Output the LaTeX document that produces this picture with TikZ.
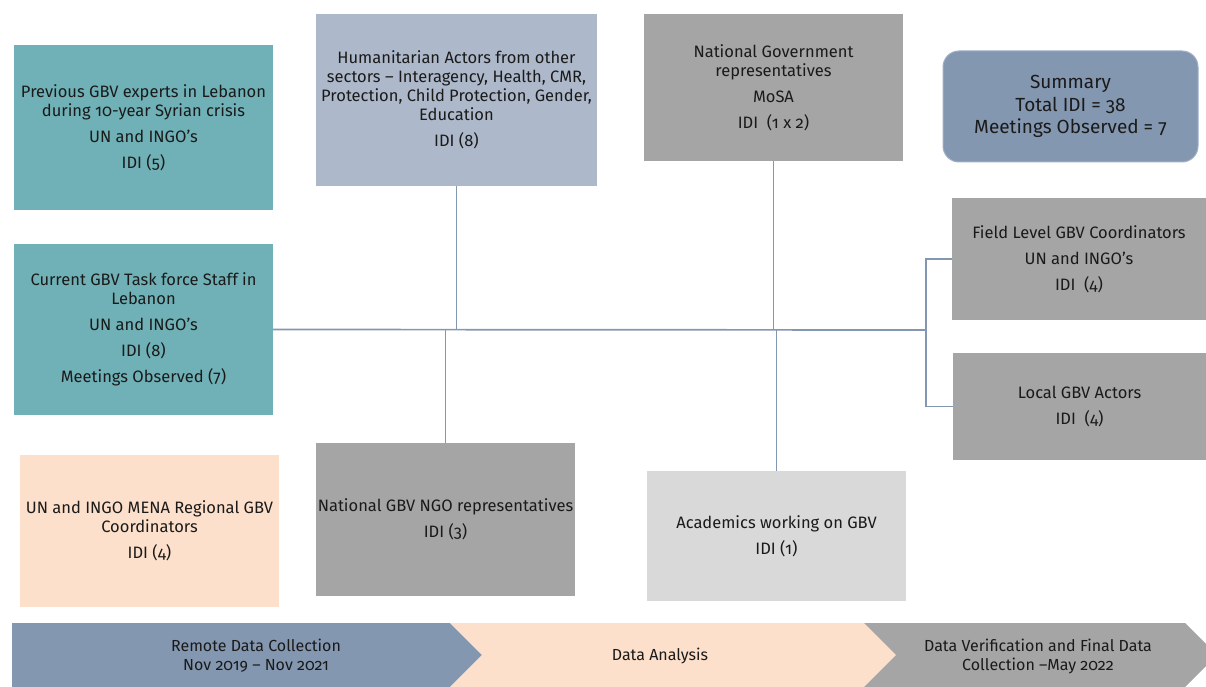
\documentclass[tikz,border=0pt]{standalone}
\usepackage{fontspec}
\setmainfont{Fira Sans}[Numbers=OldStyle]
\definecolor{tealbox}{HTML}{6FB1B6}
\definecolor{bluegrey}{HTML}{ADB9CA}
\definecolor{midgrey}{HTML}{A5A5A5}
\definecolor{lightgrey}{HTML}{D9D9D9}
\definecolor{peach}{HTML}{FDE0CB}
\definecolor{slate}{HTML}{8497B0}
\definecolor{slateedge}{HTML}{9FB0C6}
\definecolor{inktext}{HTML}{1A1A1A}
\tikzset{
  box/.style={rectangle, inner sep=0pt, align=center, text=inktext,
    font=\fontsize{16.5}{19}\selectfont},
  link/.style={draw=slate, line width=1.3pt},
  phase/.style={inner sep=0pt, align=center, text=inktext,
    font=\fontsize{16}{19}\selectfont}
}
\begin{document}
\begin{tikzpicture}[x=1pt,y=-1pt]
\useasboundingbox (0,0) rectangle (1206,687);
\clip (0,0) rectangle (1206,687);

% participant groups
\node[box, fill=tealbox, minimum width=259pt, minimum height=165pt] (prev) at (143.5,127.5)
  {Previous GBV experts in Lebanon\\ during 10-year Syrian crisis\\[7pt] UN and INGO’s\\[7pt] IDI (5)};
\node[box, fill=bluegrey, minimum width=281pt, minimum height=172pt] (hum) at (456.5,100)
  {Humanitarian Actors from other\\ sectors – Interagency, Health, CMR,\\ Protection, Child Protection, Gender,\\ Education\\[7pt] IDI (8)};
\node[box, fill=midgrey, minimum width=259pt, minimum height=147pt] (gov) at (773.5,87.5)
  {National Government\\ representatives\\[7pt] MoSA\\[7pt] IDI\ \ (1 x 2)};
\node[box, fill=slate, draw=slateedge, line width=1pt, rounded corners=16pt,
  minimum width=255pt, minimum height=111pt, font=\fontsize{19}{22.5}\selectfont] (sum) at (1070.5,106.5)
  {Summary\\ Total IDI = 38\\ Meetings Observed = 7};
\node[box, fill=midgrey, minimum width=254pt, minimum height=122pt] (field) at (1079,259)
  {Field Level GBV Coordinators\\[7pt] UN and INGO’s\\[7pt] IDI\ \ (4)};
\node[box, fill=midgrey, minimum width=253pt, minimum height=107pt] (local) at (1079.5,406.5)
  {Local GBV Actors\\[7pt] IDI\ \ (4)};
\node[box, fill=tealbox, minimum width=259pt, minimum height=171pt] (cur) at (143.5,329.5)
  {Current GBV Task force Staff in\\ Lebanon\\[7pt] UN and INGO’s\\[7pt] IDI (8)\\[7pt] Meetings Observed (7)};
\node[box, fill=peach, minimum width=259pt, minimum height=152pt] (mena) at (149.5,531)
  {UN and INGO MENA Regional GBV\\ Coordinators\\[7pt] IDI (4)};
\node[box, fill=midgrey, minimum width=259pt, minimum height=153pt] (ngo) at (445.5,519.5)
  {National GBV NGO representatives\\[7pt] IDI (3)};
\node[box, fill=lightgrey, minimum width=259pt, minimum height=130pt] (acad) at (776.5,536)
  {Academics working on GBV\\[7pt] IDI (1)};

% connecting lines
\coordinate (rj) at (926,330);
\draw[link] (hum.south) -- (hum.south |- rj);
\draw[link] (gov.south) -- (gov.south |- rj);
\draw[link] (ngo.north |- rj) -- (ngo.north);
\draw[link] (acad.north |- rj) -- (acad.north);
\draw[link] (field.west) -- (field.west -| rj) -- (local.west -| rj) -- (local.west);
\draw[link, line width=1.7pt] (cur.east) -- (rj);

% timeline chevrons
\fill[slate] (12,623) -- (450,623) -- (482,655) -- (450,687) -- (12,687) -- cycle;
\fill[peach] (450,623) -- (864,623) -- (896,655) -- (864,687) -- (450,687) -- (482,655) -- cycle;
\fill[midgrey] (864,623) -- (1185,623) -- (1217,655) -- (1185,687) -- (864,687) -- (896,655) -- cycle;
\node[phase] (p1) at (256,656) {Remote Data Collection\\ Nov 2019 – Nov 2021};
\node[phase] (p2) at (660,656) {Data Analysis};
\node[phase] (p3) at (1038,656) {Data Verification and Final Data\\ Collection –May 2022};
\end{tikzpicture}
\end{document}
